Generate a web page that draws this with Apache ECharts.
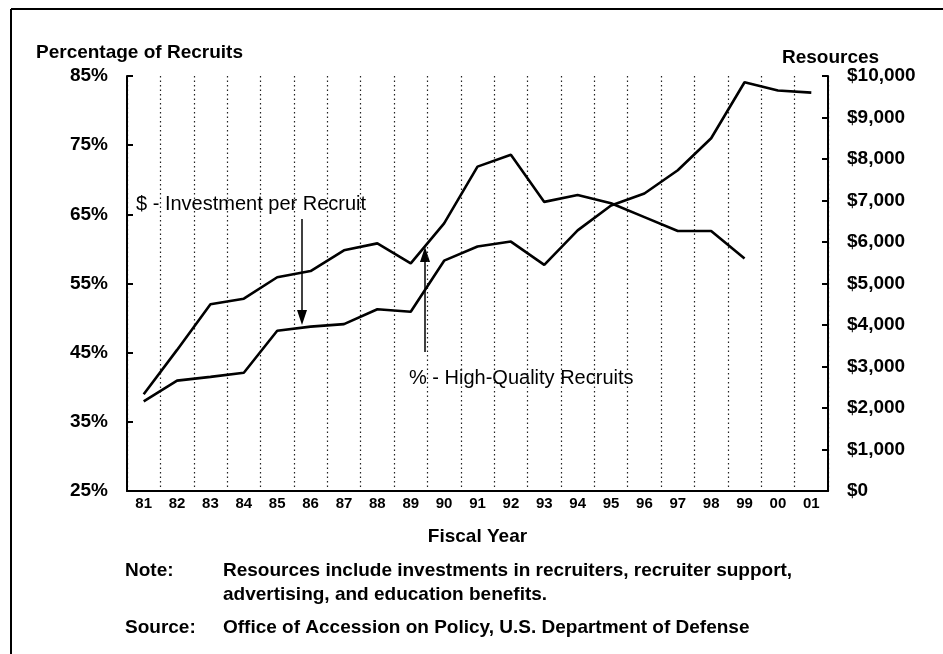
<!DOCTYPE html>
<html>
<head>
<meta charset="utf-8">
<title>Recruit quality and resources</title>
<script src="https://cdn.jsdelivr.net/npm/echarts@6/dist/echarts.min.js"></script>
<style>
  html, body { margin: 0; padding: 0; background: #fff; }
  #main { width: 943px; height: 654px; }
</style>
</head>
<body>
<div id="main"></div>
<script>
// fiscal years
var years = ['81','82','83','84','85','86','87','88','89','90','91','92','93','94','95','96','97','98','99','00','01'];
// % high-quality recruits (left axis)
var qualityPct = [39.0, 45.4, 52.0, 52.8, 55.9, 56.8, 59.8, 60.8, 57.9, 63.7, 71.9, 73.6, 66.8, 67.8, 66.6, 64.6, 62.6, 62.6, 58.6, null, null];
// investment per recruit, dollars (right axis)
var investment = [2160, 2660, 2750, 2850, 3860, 3960, 4020, 4380, 4320, 5550, 5890, 6010, 5450, 6280, 6880, 7170, 7730, 8500, 9850, 9650, 9600];

var FONT = '"Liberation Sans", Arial, sans-serif';

function txt(x, y, s, size, bold) {
  return {
    type: 'text', x: x, y: y,
    style: { text: s, fontFamily: FONT, fontSize: size, fontWeight: bold ? 'bold' : 'normal',
             fill: '#000', align: 'left', verticalAlign: 'middle' }
  };
}

var myChart = echarts.init(document.getElementById('main'));

var option = {
  animation: false,
  backgroundColor: '#fff',
  textStyle: { fontFamily: FONT, color: '#000' },
  grid: { left: 127, right: 115, top: 76, bottom: 163 },
  xAxis: {
    type: 'category',
    data: years,
    boundaryGap: true,
    name: 'Fiscal Year',
    nameLocation: 'middle',
    nameGap: 36,
    nameTextStyle: { fontFamily: FONT, fontSize: 19, fontWeight: 'bold', color: '#000' },
    axisLine: { lineStyle: { color: '#000', width: 2 } },
    axisTick: { show: false },
    axisLabel: { fontFamily: FONT, fontSize: 15, fontWeight: 'bold', color: '#000', margin: 5, interval: 0 },
    splitLine: { show: true, interval: 0, lineStyle: { color: '#222', width: 1.2, type: [1.5, 3] } }
  },
  yAxis: [
    {
      type: 'value', min: 25, max: 85, interval: 10, position: 'left',
      axisLine: { show: true, lineStyle: { color: '#000', width: 2 } },
      axisTick: { show: true, inside: true, length: 6, lineStyle: { color: '#000', width: 2 } },
      axisLabel: { formatter: '{value}%', fontFamily: FONT, fontSize: 19, fontWeight: 'bold', color: '#000', margin: 19 },
      splitLine: { show: false }
    },
    {
      type: 'value', min: 0, max: 10000, interval: 1000, position: 'right',
      axisLine: { show: true, lineStyle: { color: '#000', width: 2 } },
      axisTick: { show: true, inside: true, length: 6, lineStyle: { color: '#000', width: 2 } },
      axisLabel: {
        fontFamily: FONT, fontSize: 19, fontWeight: 'bold', color: '#000', margin: 19,
        formatter: function (v) { return '$' + v.toLocaleString('en-US'); }
      },
      splitLine: { show: false }
    }
  ],
  series: [
    {
      name: '% - High-Quality Recruits',
      type: 'line',
      yAxisIndex: 0,
      data: qualityPct,
      symbol: 'none',
      lineStyle: { color: '#000', width: 2.6 }
    },
    {
      name: '$ - Investment per Recruit',
      type: 'line',
      yAxisIndex: 1,
      data: investment,
      symbol: 'none',
      lineStyle: { color: '#000', width: 2.6 }
    }
  ],
  graphic: [
    // page frame (top and left edges only)
    { type: 'line', shape: { x1: 11, y1: 9, x2: 943, y2: 9 }, style: { stroke: '#000', lineWidth: 2 } },
    { type: 'line', shape: { x1: 11, y1: 9, x2: 11, y2: 654 }, style: { stroke: '#000', lineWidth: 2 } },

    // axis titles
    txt(36, 53, 'Percentage of Recruits', 19, true),
    txt(782, 58, 'Resources', 19, true),

    // annotation: investment
    txt(136, 204, '$ - Investment per Recruit', 20, false),
    { type: 'line', shape: { x1: 302, y1: 219, x2: 302, y2: 314 }, style: { stroke: '#000', lineWidth: 1.5 } },
    { type: 'polygon', shape: { points: [[297, 310], [307, 310], [302, 325]] }, style: { fill: '#000' } },

    // annotation: quality
    txt(409, 378, '% - High-Quality Recruits', 20, false),
    { type: 'line', shape: { x1: 425, y1: 352, x2: 425, y2: 258 }, style: { stroke: '#000', lineWidth: 1.5 } },
    { type: 'polygon', shape: { points: [[420, 262], [430, 262], [425, 247]] }, style: { fill: '#000' } },

    // notes
    txt(125, 571, 'Note:', 19, true),
    txt(223, 571, 'Resources include investments in recruiters, recruiter support,', 19, true),
    txt(223, 595, 'advertising, and education benefits.', 19, true),
    txt(125, 628, 'Source:', 19, true),
    txt(223, 628, 'Office of Accession on Policy, U.S. Department of Defense', 19, true)
  ]
};

myChart.setOption(option);
</script>
</body>
</html>
